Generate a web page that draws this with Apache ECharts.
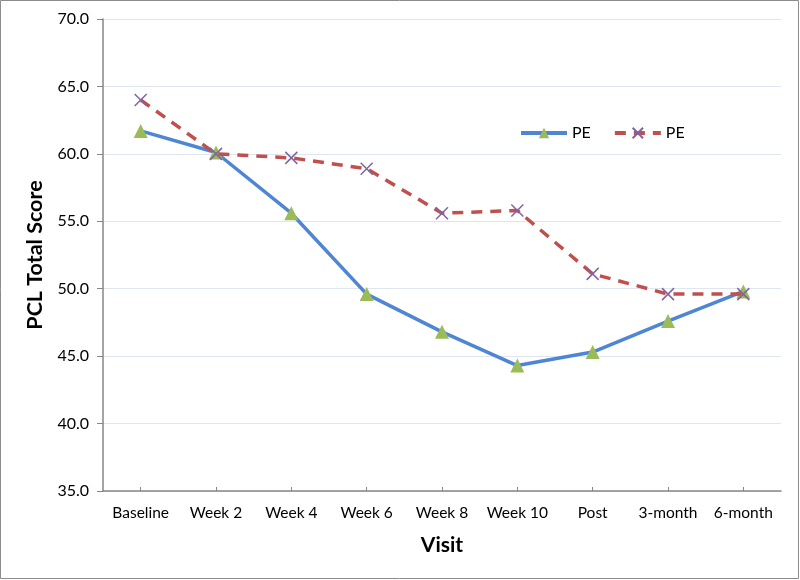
<!DOCTYPE html>
<html>
<head>
<meta charset="utf-8">
<script src="https://cdn.jsdelivr.net/npm/echarts@6/dist/echarts.min.js"></script>
<style>html,body{margin:0;padding:0;background:#fff;}#c{width:800px;height:580px;}</style>
</head>
<body>
<div id="c"></div>
<script>
const categories = ['Baseline','Week 2','Week 4','Week 6','Week 8','Week 10','Post','3-month','6-month'];
const seriesA = [61.7, 60.1, 55.6, 49.6, 46.8, 44.3, 45.3, 47.6, 49.8];
const seriesB = [64.0, 60.0, 59.7, 58.9, 55.6, 55.8, 51.1, 49.6, 49.6];
const seriesNames = ['PE', 'PE'];

const chart = echarts.init(document.getElementById('c'), null, {renderer: 'canvas'});
const font = 'Lato, "Liberation Sans", sans-serif';
chart.setOption({
  animation: false,
  backgroundColor: '#fff',
  textStyle: {fontFamily: font},
  graphic: [{
    type: 'rect', shape: {x: 0.5, y: 0.5, width: 798, height: 578},
    style: {fill: 'none', stroke: '#8c8c8c', lineWidth: 1}, silent: true
  }],
  grid: {left: 103, right: 19, top: 19, bottom: 89, containLabel: false},
  legend: {
    left: 514, top: 120, itemWidth: 46, itemHeight: 13, itemGap: 22,
    textStyle: {fontFamily: font, fontSize: 16, color: '#000'},
    lineStyle: {width: 4},
    data: [{name: 'A'}, {name: 'B'}],
    formatter: function (n) { return seriesNames[n === 'A' ? 0 : 1]; }
  },
  xAxis: {
    type: 'category', data: categories, boundaryGap: true,
    name: 'Visit', nameLocation: 'middle', nameGap: 44,
    nameTextStyle: {fontFamily: font, fontSize: 21, fontWeight: 'bold', color: '#000'},
    axisLine: {lineStyle: {color: '#868686', width: 1.5}},
    axisTick: {show: true, interval: 0, alignWithLabel: true, inside: true, length: 4, lineStyle: {color: '#868686'}},
    axisLabel: {interval: 0, fontFamily: font, fontSize: 15.5, color: '#000', margin: 14},
    splitLine: {show: false}
  },
  yAxis: {
    type: 'value', min: 35, max: 70, interval: 5,
    name: 'PCL Total Score', nameLocation: 'middle', nameGap: 57, nameRotate: 90,
    nameTextStyle: {fontFamily: font, fontSize: 21.5, fontWeight: 'bold', color: '#000'},
    axisLine: {show: true, lineStyle: {color: '#868686', width: 1.5}},
    axisTick: {show: true, inside: false, length: 6, lineStyle: {color: '#868686'}},
    axisLabel: {fontFamily: font, fontSize: 16, color: '#000', margin: 14,
      formatter: function (v) { return v.toFixed(1); }},
    splitLine: {show: true, lineStyle: {color: '#dfe6ef', width: 1}}
  },
  series: [
    {
      name: 'A', type: 'line', data: seriesA,
      symbol: 'triangle', symbolSize: 14,
      itemStyle: {color: '#9BBB59'},
      lineStyle: {color: '#4F86D4', width: 3.5},
      z: 3
    },
    {
      name: 'B', type: 'line', data: seriesB,
      symbol: 'path://M0,0L10,10M10,0L0,10', symbolSize: 12,
      itemStyle: {color: 'rgba(0,0,0,0)', borderColor: '#8064A2', borderWidth: 1.5},
      lineStyle: {color: '#C0504D', width: 3.5, type: [11, 8]},
      z: 4
    }
  ]
});
</script>
</body>
</html>
